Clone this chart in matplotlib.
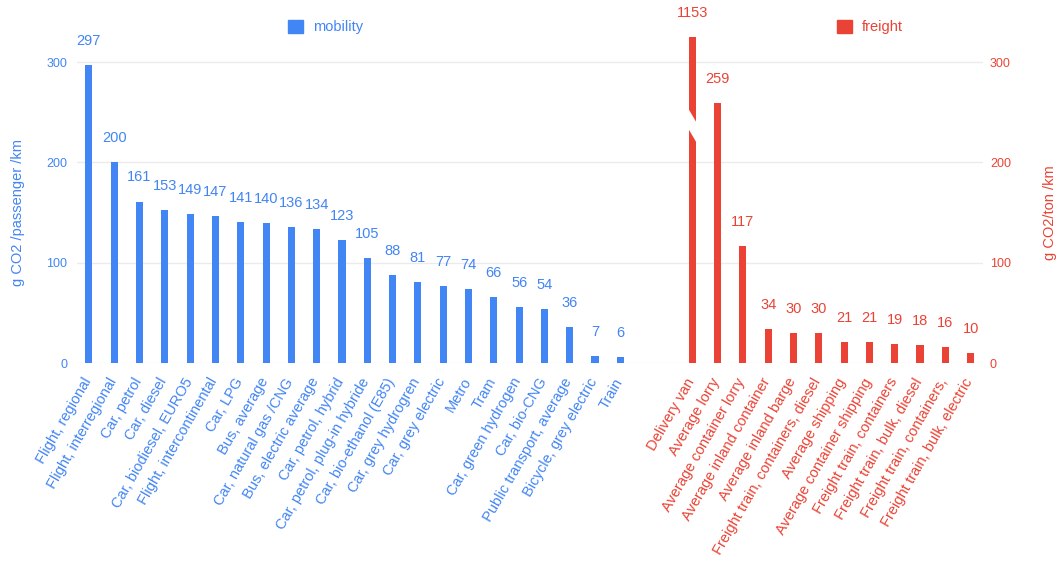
import matplotlib
matplotlib.use('Agg')
import matplotlib.pyplot as plt
import numpy as np
from matplotlib.patches import Patch, Polygon
from matplotlib.transforms import ScaledTranslation

plt.rcParams['font.family'] = ['Liberation Sans', 'DejaVu Sans']

mobility_labels = ['Flight, regional', 'Flight, interregional', 'Car, petrol', 'Car, diesel',
                   'Car, biodiesel, EURO5', 'Flight, intercontinental', 'Car, LPG', 'Bus, average',
                   'Car, natural gas /CNG', 'Bus, electric average', 'Car, petrol, hybrid',
                   'Car, petrol, plug-in hybride', 'Car, bio-ethanol (E85)', 'Car, grey hydrogren',
                   'Car, grey electric', 'Metro', 'Tram', 'Car, green hydrogen', 'Car, bio-CNG',
                   'Public transport, average', 'Bicycle, grey electric', 'Train']
mobility_values = [297, 200, 161, 153, 149, 147, 141, 140, 136, 134, 123, 105, 88, 81, 77, 74,
                   66, 56, 54, 36, 7, 6]

freight_labels = ['Delivery van', 'Average lorry', 'Average container lorry',
                  'Average inland container', 'Average inland barge',
                  'Freight train, containers, diesel', 'Average shipping',
                  'Average container shipping', 'Freight train, containers',
                  'Freight train, bulk, diesel', 'Freight train, containers,',
                  'Freight train, bulk, electric']
freight_values = [1153, 259, 117, 34, 30, 30, 21, 21, 19, 18, 16, 10]

y_ticks = [0, 100, 200, 300]

BLUE = '#4285f4'
RED = '#ea4335'
GRID = '#ebebeb'
Y_TOP = 325        # axis cut-off, taller bars get a break mark
GROUP_GAP = 2.84   # empty space between the two groups, in bar slots
BAR_W = 0.28

W, H = 1064, 561
fig = plt.figure(figsize=(W / 100, H / 100), dpi=100)
ax = fig.add_axes([77 / W, 1 - 363 / H, 906 / W, 326 / H])
ax2 = ax.twinx()

x_mob = np.arange(len(mobility_values))
x_fr = np.arange(len(freight_values)) + x_mob[-1] + GROUP_GAP

ax.bar(x_mob, mobility_values, width=BAR_W, color=BLUE, zorder=3)
ax.bar(x_fr, freight_values, width=BAR_W, color=RED, zorder=3)

# value labels above every bar
for xs, vals, col in [(x_mob, mobility_values, BLUE), (x_fr, freight_values, RED)]:
    for x, v in zip(xs, vals):
        ax.annotate(str(v), (x, min(v, Y_TOP)), xytext=(0, 17.3), textcoords='offset points',
                    ha='center', va='center', fontsize=10.5, color=col, annotation_clip=False)
        if v > Y_TOP:
            # diagonal white cut through the clipped bar
            xl, xr = x - 0.2, x + 0.2
            slope = -12 / BAR_W
            mid = 237
            pts = [(xl, mid + 10 + slope * (xl - x)), (xr, mid + 10 + slope * (xr - x)),
                   (xr, mid - 10 + slope * (xr - x)), (xl, mid - 10 + slope * (xl - x))]
            ax.add_patch(Polygon(pts, closed=True, facecolor='white', edgecolor='none', zorder=4))

ax.set_xlim(-0.47, x_fr[-1] + 0.49)
for a in (ax, ax2):
    a.set_ylim(0, Y_TOP)
    a.set_yticks(y_ticks)
    for s in a.spines.values():
        s.set_visible(False)

ax.grid(axis='y', color=GRID, linewidth=1, zorder=0)
ax.set_axisbelow(True)
ax.tick_params(axis='y', length=0, pad=7, labelsize=9, labelcolor=BLUE)
ax2.tick_params(axis='y', length=0, pad=5, labelsize=9, labelcolor=RED)

ax.set_xticks(np.concatenate([x_mob, x_fr]))
ax.set_xticklabels(mobility_labels + freight_labels, rotation=60, ha='right', va='top',
                   rotation_mode='anchor', fontsize=10.5)
ax.tick_params(axis='x', length=0, pad=9)
shift = ScaledTranslation(-7 / 100, 0, fig.dpi_scale_trans)
for i, lbl in enumerate(ax.get_xticklabels()):
    lbl.set_color(BLUE if i < len(mobility_labels) else RED)
    lbl.set_transform(lbl.get_transform() + shift)

fig.text(18 / W, 1 - 213 / H, 'g CO2 /passenger /km', rotation=90, ha='center', va='center',
         fontsize=10.5, color=BLUE)
fig.text(1050 / W, 1 - 213 / H, 'g CO2/ton /km', rotation=90, ha='center', va='center',
         fontsize=10.5, color=RED)

leg_kw = dict(loc='center left', bbox_transform=fig.transFigure, frameon=False, borderpad=0,
              borderaxespad=0, handlelength=1.0, handleheight=1.0, handletextpad=0.7,
              fontsize=10.5)
ax.legend(handles=[Patch(color=BLUE, label='mobility')],
          bbox_to_anchor=(288 / W, 1 - 27 / H), labelcolor=BLUE, **leg_kw)
ax2.legend(handles=[Patch(color=RED, label='freight')],
           bbox_to_anchor=(837 / W, 1 - 27 / H), labelcolor=RED, **leg_kw)

fig.savefig('out.png', dpi=100)
